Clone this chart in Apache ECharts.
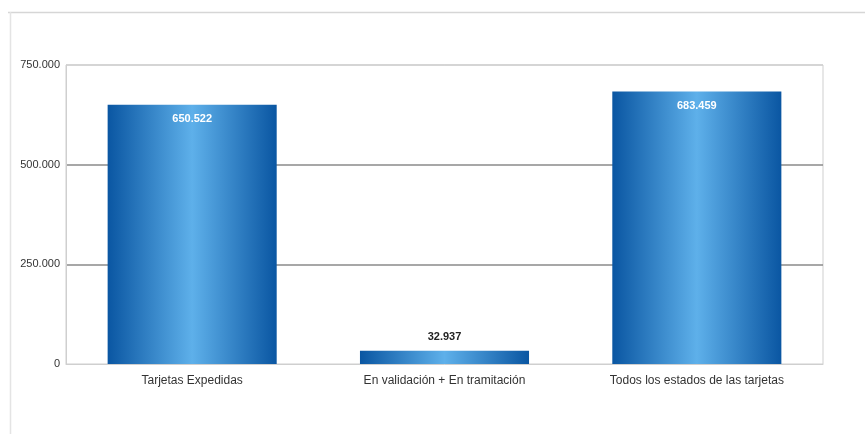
<!DOCTYPE html>
<html><head><meta charset="utf-8">
<script src="https://cdn.jsdelivr.net/npm/echarts@6/dist/echarts.min.js"></script>
<style>html,body{margin:0;padding:0;background:#fff}#c{width:865px;height:434px}</style>
</head><body><div id="c"></div>
<script>
const categories = ['Tarjetas Expedidas', 'En validación + En tramitación', 'Todos los estados de las tarjetas'];
const values = [650522, 32937, 683459];
const yTicks = [0, 250000, 500000, 750000];

const FONT = '"Liberation Sans Narrow", "Arial Narrow", "Liberation Sans", sans-serif';
function fmt(v){ return String(Math.round(v)).replace(/\B(?=(\d{3})+(?!\d))/g, '.'); }
const grad = new echarts.graphic.LinearGradient(0,0,1,0,[
  {offset:0,color:'#0a56a2'},{offset:0.5,color:'#5eb0ea'},{offset:1,color:'#0a56a2'}]);

const chart = echarts.init(document.getElementById('c'));
chart.setOption({
  animation:false,
  graphic:[
    {type:'line',shape:{x1:8,y1:12.5,x2:865,y2:12.5},style:{stroke:'#d6d6d6',lineWidth:1.5}},
    {type:'line',shape:{x1:10.5,y1:12,x2:10.5,y2:434},style:{stroke:'#e4e4e4',lineWidth:1.5}}
  ],
  grid:{left:66,right:42,top:65,bottom:70,show:true,borderColor:'#cfcfcf',borderWidth:1},
  xAxis:{type:'category',data:categories,
    axisLine:{lineStyle:{color:'#cfcfcf'}},axisTick:{show:false},
    axisLabel:{color:'#333',fontFamily:FONT,fontSize:12,margin:11}},
  yAxis:{type:'value',min:0,max:750000,interval:250000,
    axisLine:{show:true,lineStyle:{color:'#cfcfcf'}},axisTick:{show:false},
    splitLine:{lineStyle:{color:['rgba(0,0,0,0)','#8a8a8a','#8a8a8a','#cfcfcf'],width:1.5}},
    axisLabel:{color:'#333',fontFamily:FONT,fontSize:11,margin:6,
      formatter:v=>yTicks.includes(v)?fmt(v):''}},
  series:[{type:'bar',data:values.map((v,i)=>({value:v,label: i===1 ?
      {show:true,position:'top',distance:8,color:'#222'} :
      {show:true,position:'insideTop',distance:9,color:'#fff'}})),
    barWidth:'67%',
    itemStyle:{color:grad},
    label:{fontFamily:FONT,fontSize:11,fontWeight:'bold',formatter:p=>fmt(p.value)}}]
});
</script></body></html>
